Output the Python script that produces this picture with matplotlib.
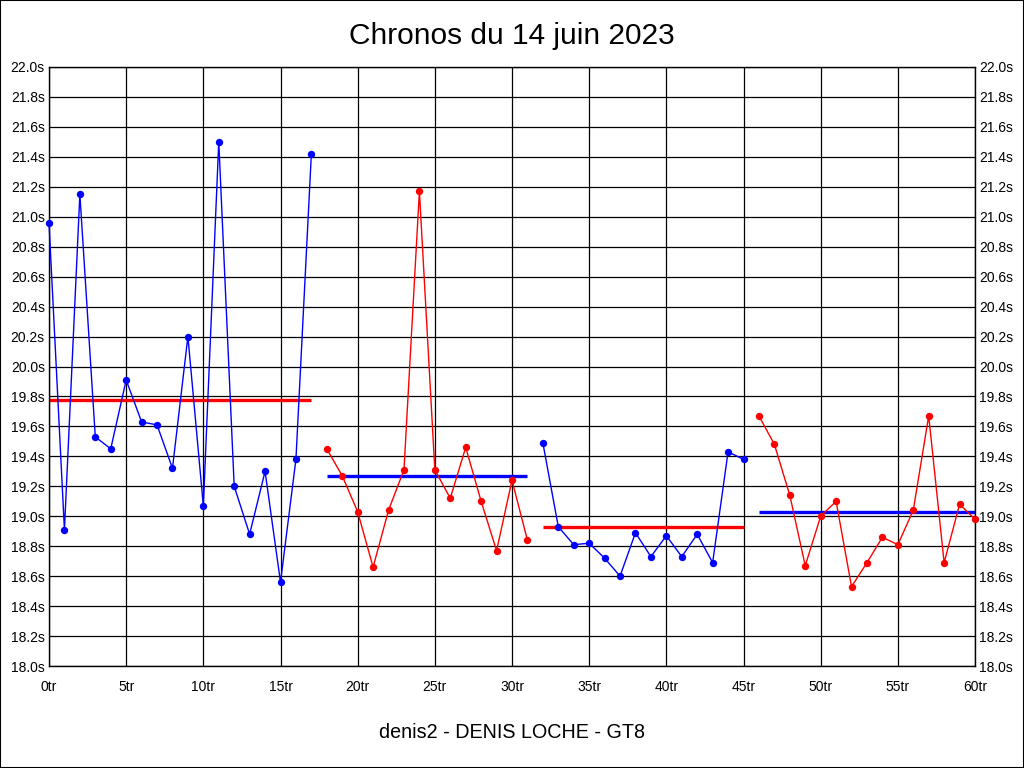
import matplotlib
matplotlib.use("Agg")
import matplotlib.pyplot as plt
from matplotlib.patches import Rectangle
import numpy as np

plt.rcParams['font.family'] = ['Liberation Sans Narrow', 'Liberation Sans', 'DejaVu Sans']

## lap times per stint (s)
laps1 = list(range(0, 18))
times1 = [20.96, 18.91, 21.15, 19.53, 19.45, 19.91, 19.63, 19.61, 19.32,
          20.20, 19.07, 21.50, 19.20, 18.88, 19.30, 18.56, 19.38, 21.42]
laps2 = list(range(18, 32))
times2 = [19.45, 19.27, 19.03, 18.66, 19.04, 19.31, 21.17, 19.31, 19.12,
          19.46, 19.10, 18.77, 19.24, 18.84]
laps3 = list(range(32, 46))
times3 = [19.49, 18.93, 18.81, 18.82, 18.72, 18.60, 18.89, 18.73, 18.87,
          18.73, 18.88, 18.69, 19.43, 19.38]
laps4 = list(range(46, 61))
times4 = [19.67, 19.48, 19.14, 18.67, 19.00, 19.10, 18.53, 18.69, 18.86,
          18.81, 19.04, 19.67, 18.69, 19.08, 18.98]

stints = [(laps1, times1, 'blue', 'red'),
          (laps2, times2, 'red', 'blue'),
          (laps3, times3, 'blue', 'red'),
          (laps4, times4, 'red', 'blue')]

xticks = list(range(0, 61, 5))
yticks = np.round(np.arange(18.0, 22.01, 0.2), 1)

fig = plt.figure(figsize=(10.24, 7.68), dpi=100)
ax = fig.add_axes([49/1024, 1-666/768, 926/1024, 599/768])

for laps, times, col, meancol in stints:
    ax.plot(laps, times, color=col, linewidth=1, marker='o', markersize=5.3,
            markeredgewidth=0, zorder=3, clip_on=False)
    ax.plot([laps[0], laps[-1]], [np.mean(times)]*2, color=meancol,
            linewidth=2.4, zorder=2, solid_capstyle='butt')

ax.set_xlim(0, 60)
ax.set_ylim(18.0, 22.0)
ax.set_xticks(xticks)
ax.set_xticklabels([f"{t}tr" for t in xticks])
ax.set_yticks(yticks)
ax.set_yticklabels([f"{t:.1f}s" for t in yticks])
ax.tick_params(axis='both', length=0, labelsize=10, pad=3)
ax.tick_params(axis='x', pad=10)
ax.tick_params(axis='y', right=True, labelright=True)
ax.grid(True, color='black', linewidth=0.9)
ax.set_axisbelow(True)
for s in ax.spines.values():
    s.set_color('black')
    s.set_linewidth(1)

fig.text(0.5, 1-36/768, "Chronos du 14 juin 2023", ha='center', va='center',
         fontsize=21.5, family=['Liberation Sans', 'DejaVu Sans'])
fig.text(0.5, 1-733/768, "denis2 - DENIS LOCHE - GT8", ha='center', va='center',
         fontsize=14.2, family=['Liberation Sans', 'DejaVu Sans'])

fig.add_artist(Rectangle((0, 0), 1, 1, transform=fig.transFigure, fill=False,
                         edgecolor='black', linewidth=1.5))

fig.savefig('out.png', dpi=100)
